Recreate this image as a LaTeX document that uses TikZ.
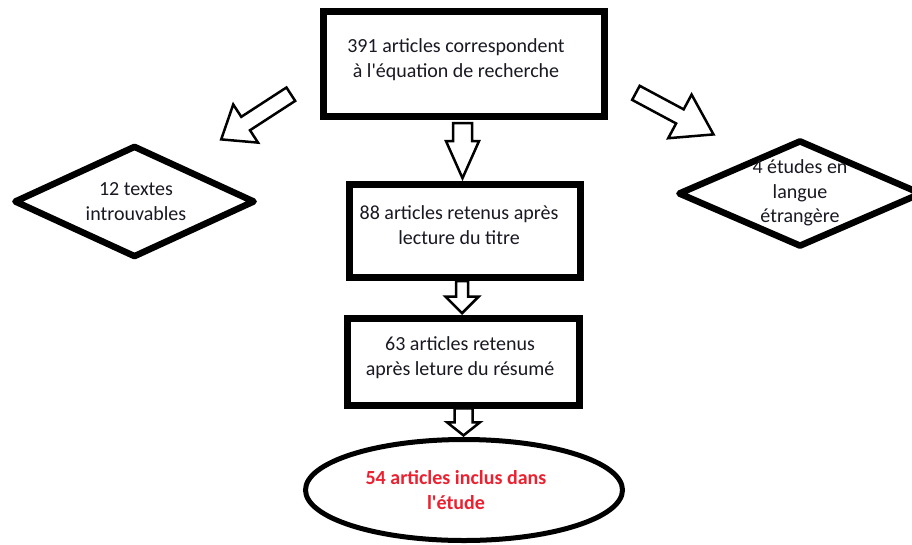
\documentclass[tikz,border=0pt]{standalone}
\usepackage{fontspec}
\setmainfont{Carlito}
\usetikzlibrary{shapes.geometric,shapes.arrows}
\definecolor{ink}{RGB}{25,25,35}
\definecolor{redtxt}{RGB}{237,32,48}
\newcommand\lblfont{\fontsize{20pt}{24.5pt}\selectfont}
\tikzset{
  boxst/.style={draw, rectangle, line width=7pt, inner sep=0pt},
  diast/.style={draw, diamond, line width=6.5pt, line join=round, inner sep=0pt},
  ellst/.style={draw, ellipse, line width=5pt, inner sep=0pt},
  txt/.style={align=center, text=ink, font=\lblfont, inner sep=0pt},
  redt/.style={txt, text=redtxt, font=\lblfont\bfseries},
  blk/.style={draw, single arrow, line width=2.5pt, inner sep=0pt,
              minimum width=0pt, fill=white, anchor=tip},
}
\begin{document}
\begin{tikzpicture}[x=1pt, y=-1pt]
  \fill[white] (0,0) rectangle (912,544);
  \useasboundingbox (0,0) rectangle (912,544);

  % shapes
  \node[boxst, minimum width=281pt, minimum height=105pt] (b1) at (464,63.5) {};
  \node[boxst, minimum width=231pt, minimum height=92.5pt] (b2) at (464.5,231) {};
  \node[boxst, minimum width=232pt, minimum height=87pt] (b3) at (463.5,362) {};
  \node[ellst, minimum width=317pt, minimum height=101pt] (e1) at (464,490) {};
  \node[diast, minimum width=241pt, minimum height=112pt] (d1) at (134.5,201.5) {};
  \node[diast, minimum width=244pt, minimum height=107pt] (d2) at (800,193.5) {};

  % texts
  \node[txt] (t1) at (456,59.5) {391 articles correspondent\\à l\textquotesingle équation de recherche};
  \node[txt] (t2) at (459,225) {88 articles retenus après\\lecture du titre};
  \node[txt] (t3) at (460,357.5) {63 articles retenus\\après leture du résumé};
  \node[redt] (t4) at (456,490) {54 articles inclus dans\\l\textquotesingle étude};
  \node[txt] (t5) at (136,201.5) {12 textes\\introuvables};
  \node[txt] (t6) at (800,193) {4 études en\\langue\\étrangère};

  % block arrows
  \node[blk, rotate=-90, minimum height=55pt, inner ysep=8.25pt,
        single arrow head extend=7pt, single arrow tip angle=48]
        (a1) at ([xshift=-2pt]b2.north) {};
  \node[blk, rotate=-90, minimum height=32pt, inner ysep=4.75pt,
        single arrow head extend=10.5pt, single arrow tip angle=90]
        (a2) at ([xshift=-1.5pt]b3.north) {};
  \node[blk, rotate=-90, minimum height=27pt, inner ysep=7.75pt,
        single arrow head extend=7.5pt, single arrow tip angle=103]
        (a3) at ([xshift=-0.5pt]e1.north) {};
  \coordinate (p4) at (219.5,140.5);
  \coordinate (p5) at (715.5,135.5);
  \node[blk, rotate=213, minimum height=83pt, inner ysep=6.75pt,
        single arrow head extend=14.75pt, single arrow tip angle=76]
        (a4) at (p4) {};
  \node[blk, rotate=-28.2, minimum height=88pt, inner ysep=6.75pt,
        single arrow head extend=16.75pt, single arrow tip angle=66]
        (a5) at (p5) {};
\end{tikzpicture}
\end{document}
